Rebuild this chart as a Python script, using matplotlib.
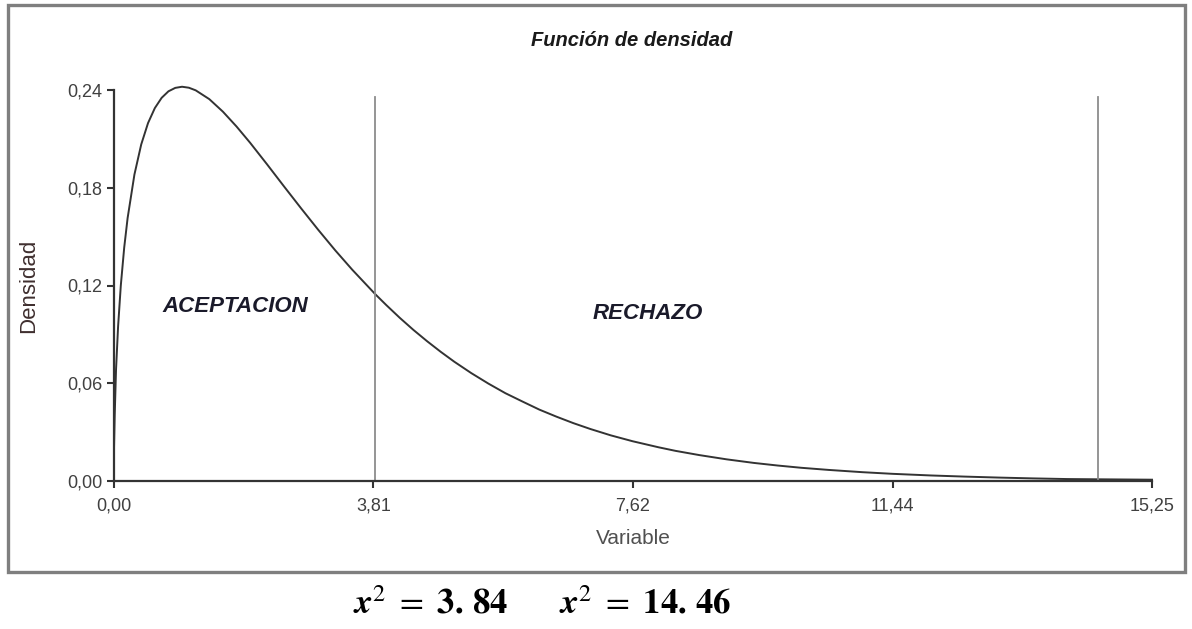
import matplotlib
matplotlib.use("Agg")
import matplotlib.pyplot as plt
from matplotlib.patches import Rectangle

# ─── 数据 ─────────────────────────────────────────────────────
x_vals = [0.00, 0.01, 0.03, 0.06, 0.10, 0.15, 0.20, 0.30, 0.40, 0.50,
          0.60, 0.70, 0.80, 0.90, 1.00, 1.10, 1.20, 1.40, 1.60, 1.80,
          2.00, 2.25, 2.50, 2.75, 3.00, 3.25, 3.50, 3.84, 4.00, 4.20,
          4.40, 4.60, 4.80, 5.00, 5.25, 5.50, 5.75, 6.00, 6.25, 6.50,
          6.75, 7.00, 7.30, 7.62, 8.00, 8.25, 8.60, 9.00, 9.40, 9.75,
          10.10, 10.50, 11.00, 11.44, 12.00, 12.50, 13.00, 13.50, 14.00,
          14.60, 15.25]
dens = [0.0200, 0.0398, 0.0685, 0.0948, 0.1200, 0.1433, 0.1614, 0.1881, 0.2066, 0.2197,
        0.2289, 0.2352, 0.2392, 0.2413, 0.2420, 0.2414, 0.2398, 0.2344, 0.2267, 0.2176,
        0.2076, 0.1943, 0.1807, 0.1673, 0.1542, 0.1416, 0.1297, 0.1146, 0.1080, 0.1001,
        0.0927, 0.0858, 0.0793, 0.0732, 0.0662, 0.0598, 0.0539, 0.0488, 0.0438, 0.0395,
        0.0355, 0.0319, 0.0280, 0.0244, 0.0207, 0.0185, 0.0159, 0.0133, 0.0111, 0.0095,
        0.0081, 0.0068, 0.0054, 0.0044, 0.0034, 0.0027, 0.0021, 0.0016, 0.0012,
        0.0010, 0.0008]

crit_vals = [3.84, 14.46]
crit_labels = [r"$\boldsymbol{x}^{2}\ =\ \mathbf{3.\,84}$",
               r"$\boldsymbol{x}^{2}\ =\ \mathbf{14.\,46}$"]
x_ticks = [0.00, 3.81, 7.62, 11.44, 15.25]
y_ticks = [0.00, 0.06, 0.12, 0.18, 0.24]

plt.rcParams["font.family"] = ["Liberation Sans", "DejaVu Sans"]
plt.rcParams["mathtext.fontset"] = "stix"

fig = plt.figure(figsize=(11.92, 6.29), dpi=100)
fig.patch.set_facecolor("white")

# 外框
W, H = 1192, 629
fig.patches.append(Rectangle((8 / W, 1 - 572 / H), (1185 - 8) / W, (572 - 5) / H,
                             transform=fig.transFigure, fill=False,
                             edgecolor="#7f7f7f", lw=2.4))

ax = fig.add_axes([114 / W, 1 - 481 / H, (1152 - 114) / W, (481 - 90) / H])

ax.plot(x_vals, dens, color="#333333", lw=1.4, solid_joinstyle="round",
        clip_on=False)
for c in crit_vals:
    ax.plot([c, c], [0, 0.236], color="#8c8c8c", lw=1.3)

ax.set_xlim(0, 15.25)
ax.set_ylim(0, 0.24)
ax.set_xticks(x_ticks)
ax.set_xticklabels([f"{v:.2f}".replace(".", ",") for v in x_ticks])
ax.set_yticks(y_ticks)
ax.set_yticklabels([f"{v:.2f}".replace(".", ",") for v in y_ticks])
ax.tick_params(direction="out", length=5, width=1.5, color="#333333",
               labelcolor="#404040", labelsize=13)
ax.tick_params(axis="x", pad=7)
for s in ["top", "right"]:
    ax.spines[s].set_visible(False)
for s in ["left", "bottom"]:
    ax.spines[s].set_color("#333333")
    ax.spines[s].set_linewidth(1.6)

ax.set_xlabel("Variable", fontsize=15, color="#505050", labelpad=10)
ax.set_ylabel("Densidad", fontsize=16, color="#3f2f2f", labelpad=20)

fig.text(235 / W, 1 - 307 / H, "ACEPTACION", ha="center", va="center",
         fontsize=16, fontweight="bold", style="italic", color="#1a1a2a")
fig.text(648 / W, 1 - 313 / H, "RECHAZO", ha="center", va="center",
         fontsize=16, fontweight="bold", style="italic", color="#1a1a2a")
fig.text(632 / W, 1 - 40 / H, "Función de densidad", ha="center", va="center",
         fontsize=14.5, fontweight="bold", style="italic", color="#1a1a1a")

fig.text(430 / W, 1 - 604 / H, crit_labels[0], ha="center", va="center",
         fontsize=25, color="black")
fig.text(645 / W, 1 - 604 / H, crit_labels[1], ha="center", va="center",
         fontsize=25, color="black")

fig.savefig("out.png", dpi=100)
